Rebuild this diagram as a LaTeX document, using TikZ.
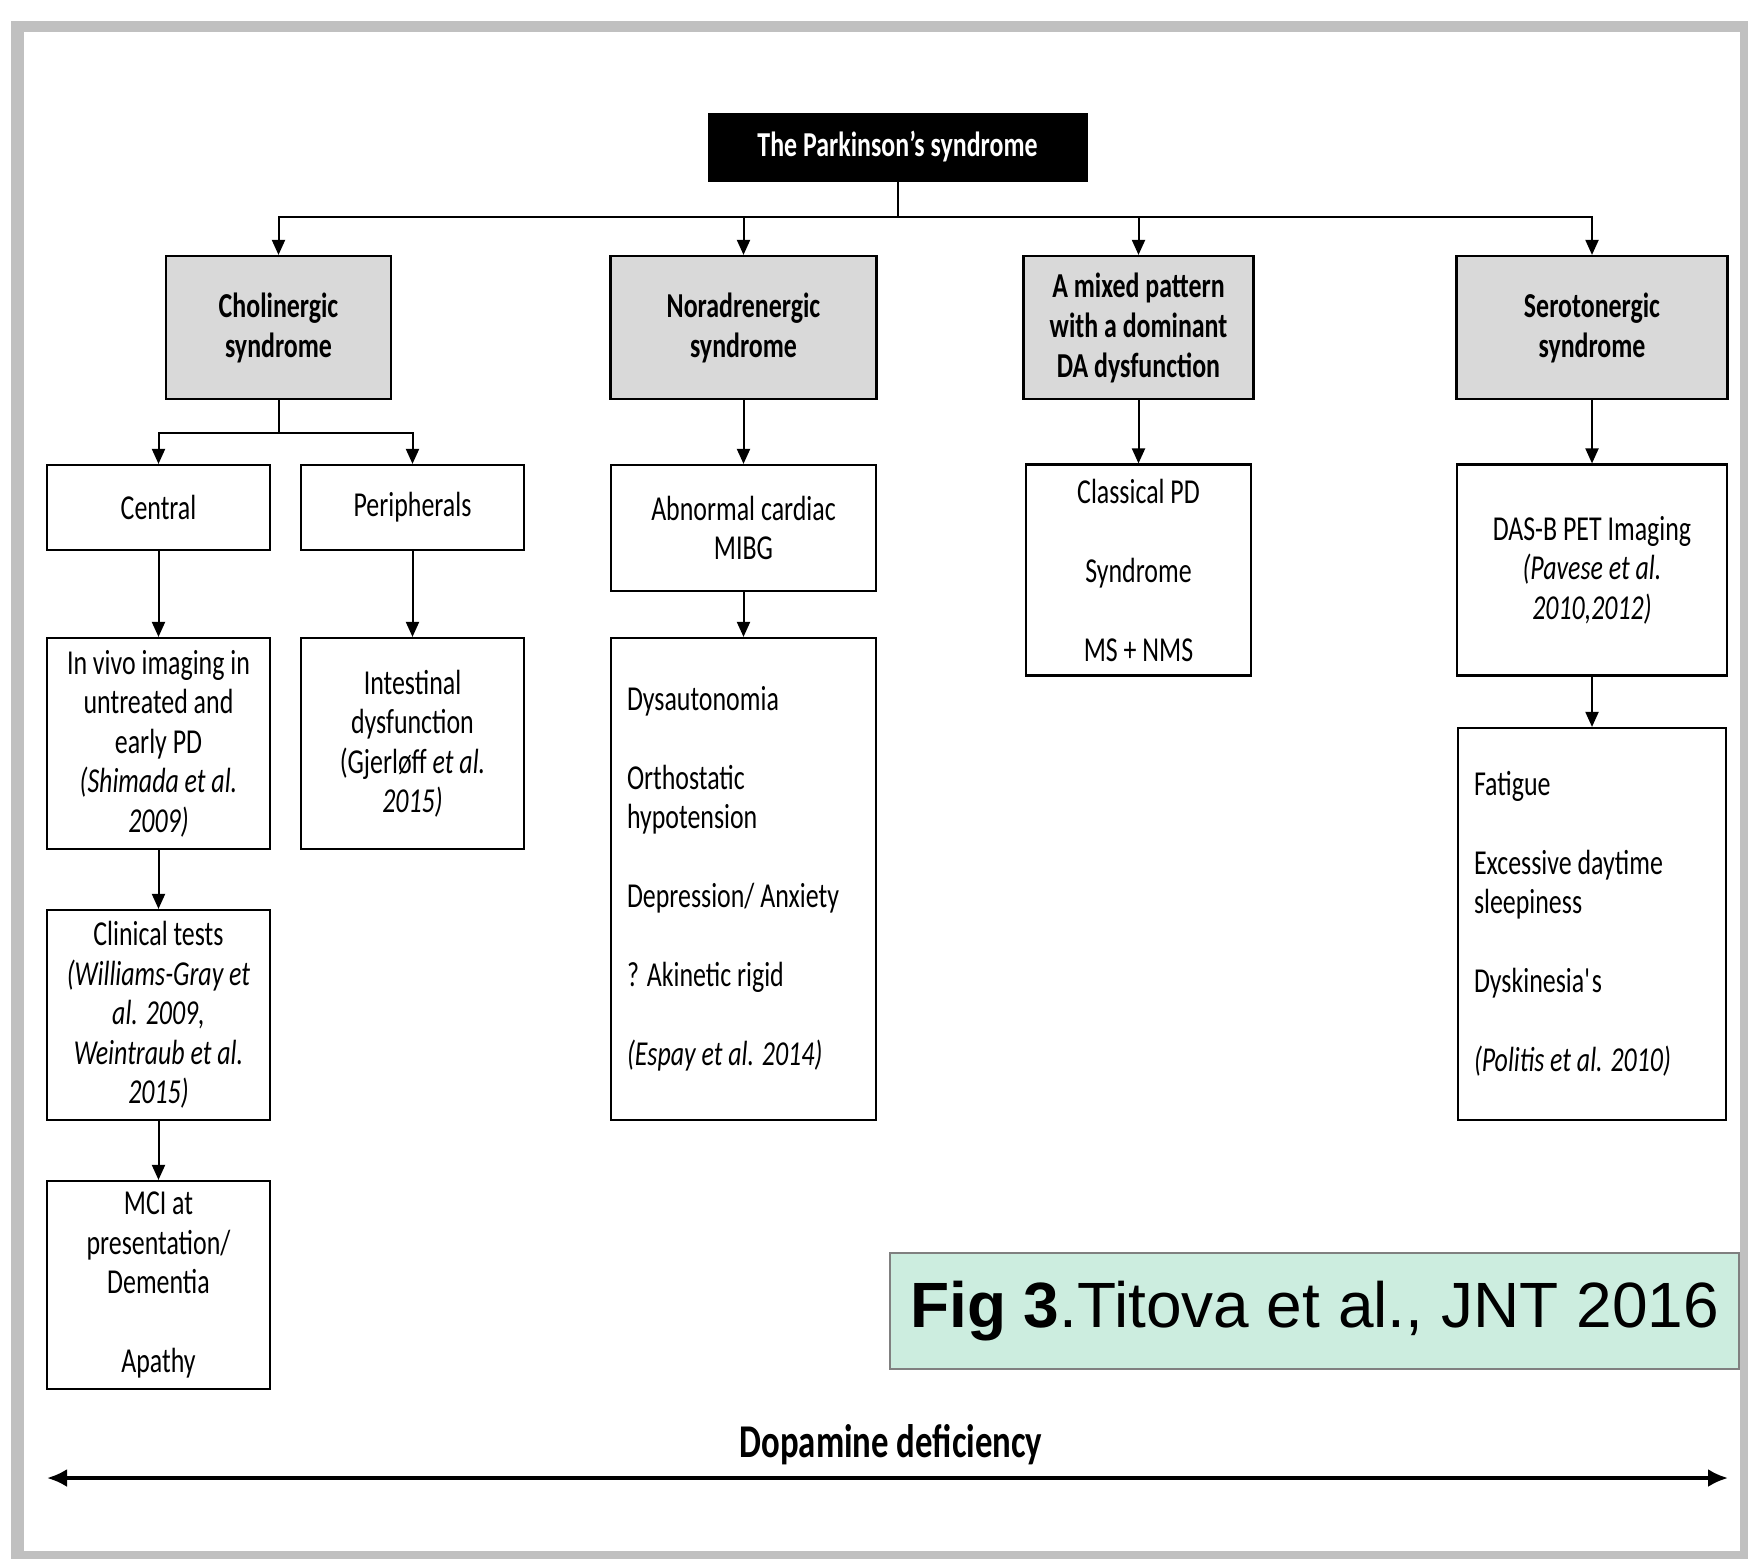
\documentclass[tikz,border=0pt]{standalone}
\usepackage{fontspec}
\setmainfont{Carlito}[FakeStretch=0.74]
\newfontfamily\figfont{Liberation Sans}
\usetikzlibrary{arrows.meta}
\definecolor{framegray}{HTML}{C0C0C0}
\definecolor{headgray}{HTML}{D9D9D9}
\definecolor{figgreen}{HTML}{CCEDDF}
\definecolor{figborder}{HTML}{808080}
\newcommand{\emptyrow}{\\[39.5pt]}

\begin{document}
\begin{tikzpicture}[x=1pt,y=-1pt,>={Triangle[length=15pt,width=13pt]},
  box/.style={draw=black,line width=2.2pt,fill=white,align=center,inner sep=4pt,font=\fontsize{35}{39.5}\selectfont},
  headbox/.style={box,fill=headgray,font=\fontsize{35}{40}\selectfont\bfseries},
  listbox/.style={box,align=flush left,inner sep=16pt},
  link/.style={line width=2pt}]
\useasboundingbox (0,0) rectangle (1748,1559);
% frame
\fill[white] (0,0) rectangle (1748,1559);
\fill[framegray] (11,21) rectangle (1748,1559);
\fill[white] (24,32) rectangle (1740,1551);
% top and syndromes
\node[draw=black,fill=black,text=white,minimum width=379pt,minimum height=68pt,font=\fontsize{35}{40}\selectfont\bfseries] (park) at (897.5,147) {The Parkinson’s syndrome};
\node[headbox,minimum width=225pt,minimum height=143pt] (chol) at (278.5,327.5) {Cholinergic\\syndrome};
\node[headbox,minimum width=266pt,minimum height=143pt] (nor) at (743.5,327.5) {Noradrenergic\\syndrome};
\node[headbox,minimum width=230pt,minimum height=143pt] (mix) at (1138.5,327.5) {A mixed pattern\\with a dominant\\DA dysfunction};
\node[headbox,minimum width=271pt,minimum height=143pt] (sero) at (1592,327.5) {Serotonergic\\syndrome};
% cholinergic branch
\node[box,minimum width=223pt,minimum height=85pt] (central) at (158.5,507.5) {Central};
\node[box,minimum width=223pt,minimum height=85pt] (periph) at (412.5,507.5) {Peripherals};
\node[box,minimum width=223pt,minimum height=211pt] (invivo) at (158.5,743.5) {In vivo imaging in\\untreated and\\early PD\\\textit{(Shimada et al.}\\\textit{2009)}};
\node[box,minimum width=223pt,minimum height=211pt] (intest) at (412.5,743.5) {Intestinal\\dysfunction\\(Gjerløff \textit{et al.}\\\textit{2015)}};
\node[box,minimum width=223pt,minimum height=210pt] (clin) at (158.5,1015) {Clinical tests\\\textit{(Williams-Gray et}\\\textit{al. 2009,}\\\textit{Weintraub et al.}\\\textit{2015)}};
\node[box,minimum width=223pt,minimum height=208pt] (mci) at (158.5,1285) {MCI at\\presentation/\\Dementia\emptyrow Apathy};
% noradrenergic branch
\node[box,minimum width=265pt,minimum height=126pt] (cardiac) at (743.5,528) {Abnormal cardiac\\MIBG};
\node[listbox,text width=233pt,minimum height=482pt] (dysaut) at (743.5,879) {Dysautonomia\emptyrow Orthostatic\\hypotension\emptyrow Depression/ Anxiety\emptyrow ? Akinetic rigid\emptyrow \textit{(Espay et al. 2014)}};
% mixed and serotonergic
\node[box,minimum width=225pt,minimum height=211pt] (classic) at (1138.5,570) {Classical PD\emptyrow Syndrome\emptyrow MS + NMS};
\node[box,minimum width=270pt,minimum height=211pt] (dasb) at (1592,570) {DAS-B PET Imaging\\\textit{(Pavese et al.}\\\textit{2010,2012)}};
\node[listbox,text width=236pt,minimum height=392pt] (fatigue) at (1592,924) {Fatigue\emptyrow Excessive daytime\\sleepiness\emptyrow Dyskinesia\textquotesingle s\emptyrow \textit{(Politis et al. 2010)}};
% caption and axis
\node[draw=figborder,line width=1.5pt,fill=figgreen,minimum width=849pt,minimum height=116pt,font=\figfont\fontsize{64}{70}\selectfont] (figref) at (1314.5,1311) {\textbf{Fig 3}.Titova et al., JNT 2016};
\node[font=\fontsize{47}{50}\selectfont\bfseries] (dopa) at (891,1445) {Dopamine deficiency};
\coordinate (dleft) at (47,1478);
\coordinate (dright) at (1728,1478);
\draw[line width=3.5pt,{Latex[length=20pt,width=18pt]}-{Latex[length=20pt,width=18pt]}] (dleft) -- (dright);
% connectors
\coordinate (parkbar) at (897.5,217);
\draw[link] (park) -- (parkbar);
\foreach \n in {chol,nor,mix,sero}
  \draw[link,->] (parkbar) -| (\n);
\coordinate (cholbar) at (278.5,432.5);
\draw[link] (chol) -- (cholbar);
\foreach \n in {central,periph}
  \draw[link,->] (cholbar) -| (\n);
\draw[link,->] (central) -- (invivo);
\draw[link,->] (invivo) -- (clin);
\draw[link,->] (clin) -- (mci);
\draw[link,->] (periph) -- (intest);
\draw[link,->] (nor) -- (cardiac);
\draw[link,->] (cardiac) -- (dysaut);
\draw[link,->] (mix) -- (classic);
\draw[link,->] (sero) -- (dasb);
\draw[link,->] (dasb) -- (fatigue);
\end{tikzpicture}
\end{document}
